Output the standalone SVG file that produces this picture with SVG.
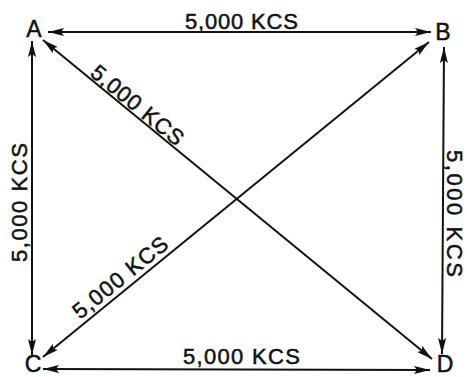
<svg xmlns="http://www.w3.org/2000/svg" width="467" height="377" viewBox="0 0 467 377">
<defs>
<style>
.ln{stroke:#111;stroke-width:2;fill:none;marker-start:url(#ah);marker-end:url(#ah)}
.lb{font-family:"Liberation Sans",Arial,sans-serif;font-size:22px;fill:#111;stroke:#111;stroke-width:0.5}
.nd{font-family:"Liberation Sans",Arial,sans-serif;font-size:23px;fill:#111;stroke:#111;stroke-width:0.5;text-anchor:middle}
</style>
<marker id="ah" markerUnits="userSpaceOnUse" markerWidth="16" markerHeight="8" refX="16" refY="4" orient="auto-start-reverse">
<path d="M0,0 L16,4 L0,8 L3,4 Z" fill="#111"/>
</marker>
</defs>
<rect width="467" height="377" fill="#fff"/>
<g id="connectors">
<line class="ln" x1="48" y1="32" x2="431" y2="32"/>
<line class="ln" x1="32" y1="41" x2="32" y2="355"/>
<line class="ln" x1="43" y1="369" x2="430" y2="370"/>
<line class="ln" x1="444" y1="47" x2="442" y2="354"/>
<line class="ln" x1="43" y1="40" x2="432" y2="359"/>
<line class="ln" x1="43" y1="357" x2="429" y2="42"/>
<text class="lb" x="185" y="29" textLength="113" lengthAdjust="spacing">5,000 KCS</text>
<text class="lb" x="183" y="364" textLength="117" lengthAdjust="spacing">5,000 KCS</text>
<text class="lb" transform="translate(27,262) rotate(-90)" textLength="119" lengthAdjust="spacing">5,000 KCS</text>
<text class="lb" transform="translate(447,150) rotate(90)" textLength="127" lengthAdjust="spacing">5,000 KCS</text>
<text class="lb" transform="translate(89,75) rotate(39.4)" textLength="113" lengthAdjust="spacing">5,000 KCS</text>
<text class="lb" transform="translate(80,320) rotate(-39.2)" textLength="116" lengthAdjust="spacing">5,000 KCS</text>
</g>
<g id="node-A"><text class="nd" x="34" y="37">A</text></g>
<g id="node-B"><text class="nd" x="443" y="40">B</text></g>
<g id="node-C"><text class="nd" x="33" y="372">C</text></g>
<g id="node-D"><text class="nd" x="445" y="372">D</text></g>
</svg>
